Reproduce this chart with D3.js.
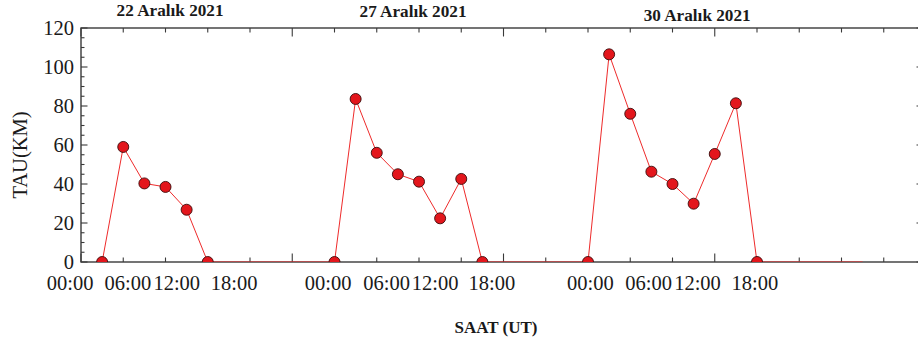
<!DOCTYPE html>
<html><head><meta charset="utf-8">
<script src="https://cdn.jsdelivr.net/npm/d3@7"></script>
<style>
html,body{margin:0;padding:0;background:#fff;}
svg{display:block;}
text{font-family:"Liberation Serif","Times New Roman",serif;fill:#1a1a1a;}
</style></head>
<body>
<svg id="c" width="918" height="344"></svg>
<script>
// ---- data ----
const dayTitles = ["22 Aralık 2021", "27 Aralık 2021", "30 Aralık 2021"];
const dayTitleHours = [12.65, 47.15, 87.5];     // centre of each title on the time axis
const hours = [3, 6, 9, 12, 15, 18,
               36, 39, 42, 45, 48, 51, 54, 57,
               72, 75, 78, 81, 84, 87, 90, 93, 96];
const tau = [0, 59, 40.3, 38.5, 26.8, 0,
             0, 83.6, 56, 45, 41.2, 22.4, 42.6, 0,
             0, 106.5, 76, 46.3, 40, 29.9, 55.4, 81.4, 0];
const zeroTrailEndHour = 111;                   // zero line continues to here
const timeLabels = ["00:00", "06:00", "12:00", "18:00",
                    "00:00", "06:00", "12:00", "18:00",
                    "00:00", "06:00", "12:00", "18:00"];
const timeLabelHours = [-1.55, 6.65, 13.6, 21.75,
                        35.1, 43.4, 50.3, 58.35,
                        72.35, 80.6, 87.55, 95.7];
const yTicks = [0, 20, 40, 60, 80, 100, 120];
const yLabel = "TAU(KM)";
const xLabel = "SAAT (UT)";

// ---- layout ----
const svg = d3.select("#c");
const L = 81, R = 926, T = 28, B = 262;
const x = d3.scaleLinear().domain([0, 120]).range([L, R]);
const y = d3.scaleLinear().domain([0, 120]).range([B, T]);
const axisColor = "#3a3a3a";

svg.append("defs").append("clipPath").attr("id", "plotclip")
  .append("rect").attr("x", L).attr("y", T).attr("width", R - L).attr("height", B - T);

// ticks
const xMinor = d3.range(0, 121, 6);
const yMinor = d3.range(0, 121, 5);
const tg = svg.append("g").attr("stroke", axisColor).attr("stroke-width", 1.1);
xMinor.forEach(h => {
  const len = (h % 30 === 0) ? 8.5 : 4.5;
  tg.append("line").attr("x1", x(h)).attr("x2", x(h)).attr("y1", T).attr("y2", T + len);
  tg.append("line").attr("x1", x(h)).attr("x2", x(h)).attr("y1", B).attr("y2", B - len);
});
yMinor.forEach(v => {
  const major = v % 20 === 0;
  tg.append("line").attr("x1", L).attr("x2", L + (major ? 6.5 : 3.5)).attr("y1", y(v)).attr("y2", y(v));
  tg.append("line").attr("x1", R).attr("x2", R - (major ? 9.5 : 4)).attr("y1", y(v)).attr("y2", y(v));
});

// frame
svg.append("rect").attr("x", L).attr("y", T).attr("width", R - L).attr("height", B - T)
  .attr("fill", "none").attr("stroke", axisColor).attr("stroke-width", 1.4);

// y tick labels
svg.append("g").selectAll("text").data(yTicks).join("text")
  .attr("x", L - 7).attr("y", d => y(d)).attr("dy", "0.34em")
  .attr("text-anchor", "end").attr("font-size", 20.5).text(d => d);

// x tick labels
svg.append("g").selectAll("text").data(timeLabels).join("text")
  .attr("x", (d, i) => x(timeLabelHours[i])).attr("y", 290)
  .attr("text-anchor", "middle").attr("font-size", 20.5).text(d => d);

// day titles
const titleY = [16, 17, 20.5];
svg.append("g").selectAll("text").data(dayTitles).join("text")
  .attr("x", (d, i) => x(dayTitleHours[i])).attr("y", (d, i) => titleY[i])
  .attr("text-anchor", "middle").attr("font-size", 17.2).attr("font-weight", "bold")
  .text(d => d);

// axis titles
svg.append("text").attr("transform", `translate(26.5,${(T + B) / 2 + 10}) rotate(-90)`)
  .attr("text-anchor", "middle").attr("font-size", 20.5).text(yLabel);
svg.append("text").attr("x", 496).attr("y", 333).attr("text-anchor", "middle")
  .attr("font-size", 17).attr("font-weight", "bold").text(xLabel);

// series
const plot = svg.append("g").attr("clip-path", "url(#plotclip)");
const pts = hours.map((h, i) => [h, tau[i]]);
const linePts = pts.concat([[zeroTrailEndHour, 0]]);
plot.append("path").datum(linePts)
  .attr("d", d3.line().x(d => x(d[0])).y(d => y(d[1])))
  .attr("fill", "none").attr("stroke", "#ee2b2b").attr("stroke-width", 1);
plot.selectAll("circle").data(pts).join("circle")
  .attr("cx", d => x(d[0])).attr("cy", d => y(d[1])).attr("r", 5.5)
  .attr("fill", "#e3161c").attr("stroke", "#3b0a0a").attr("stroke-width", 0.9);
</script>
</body></html>
